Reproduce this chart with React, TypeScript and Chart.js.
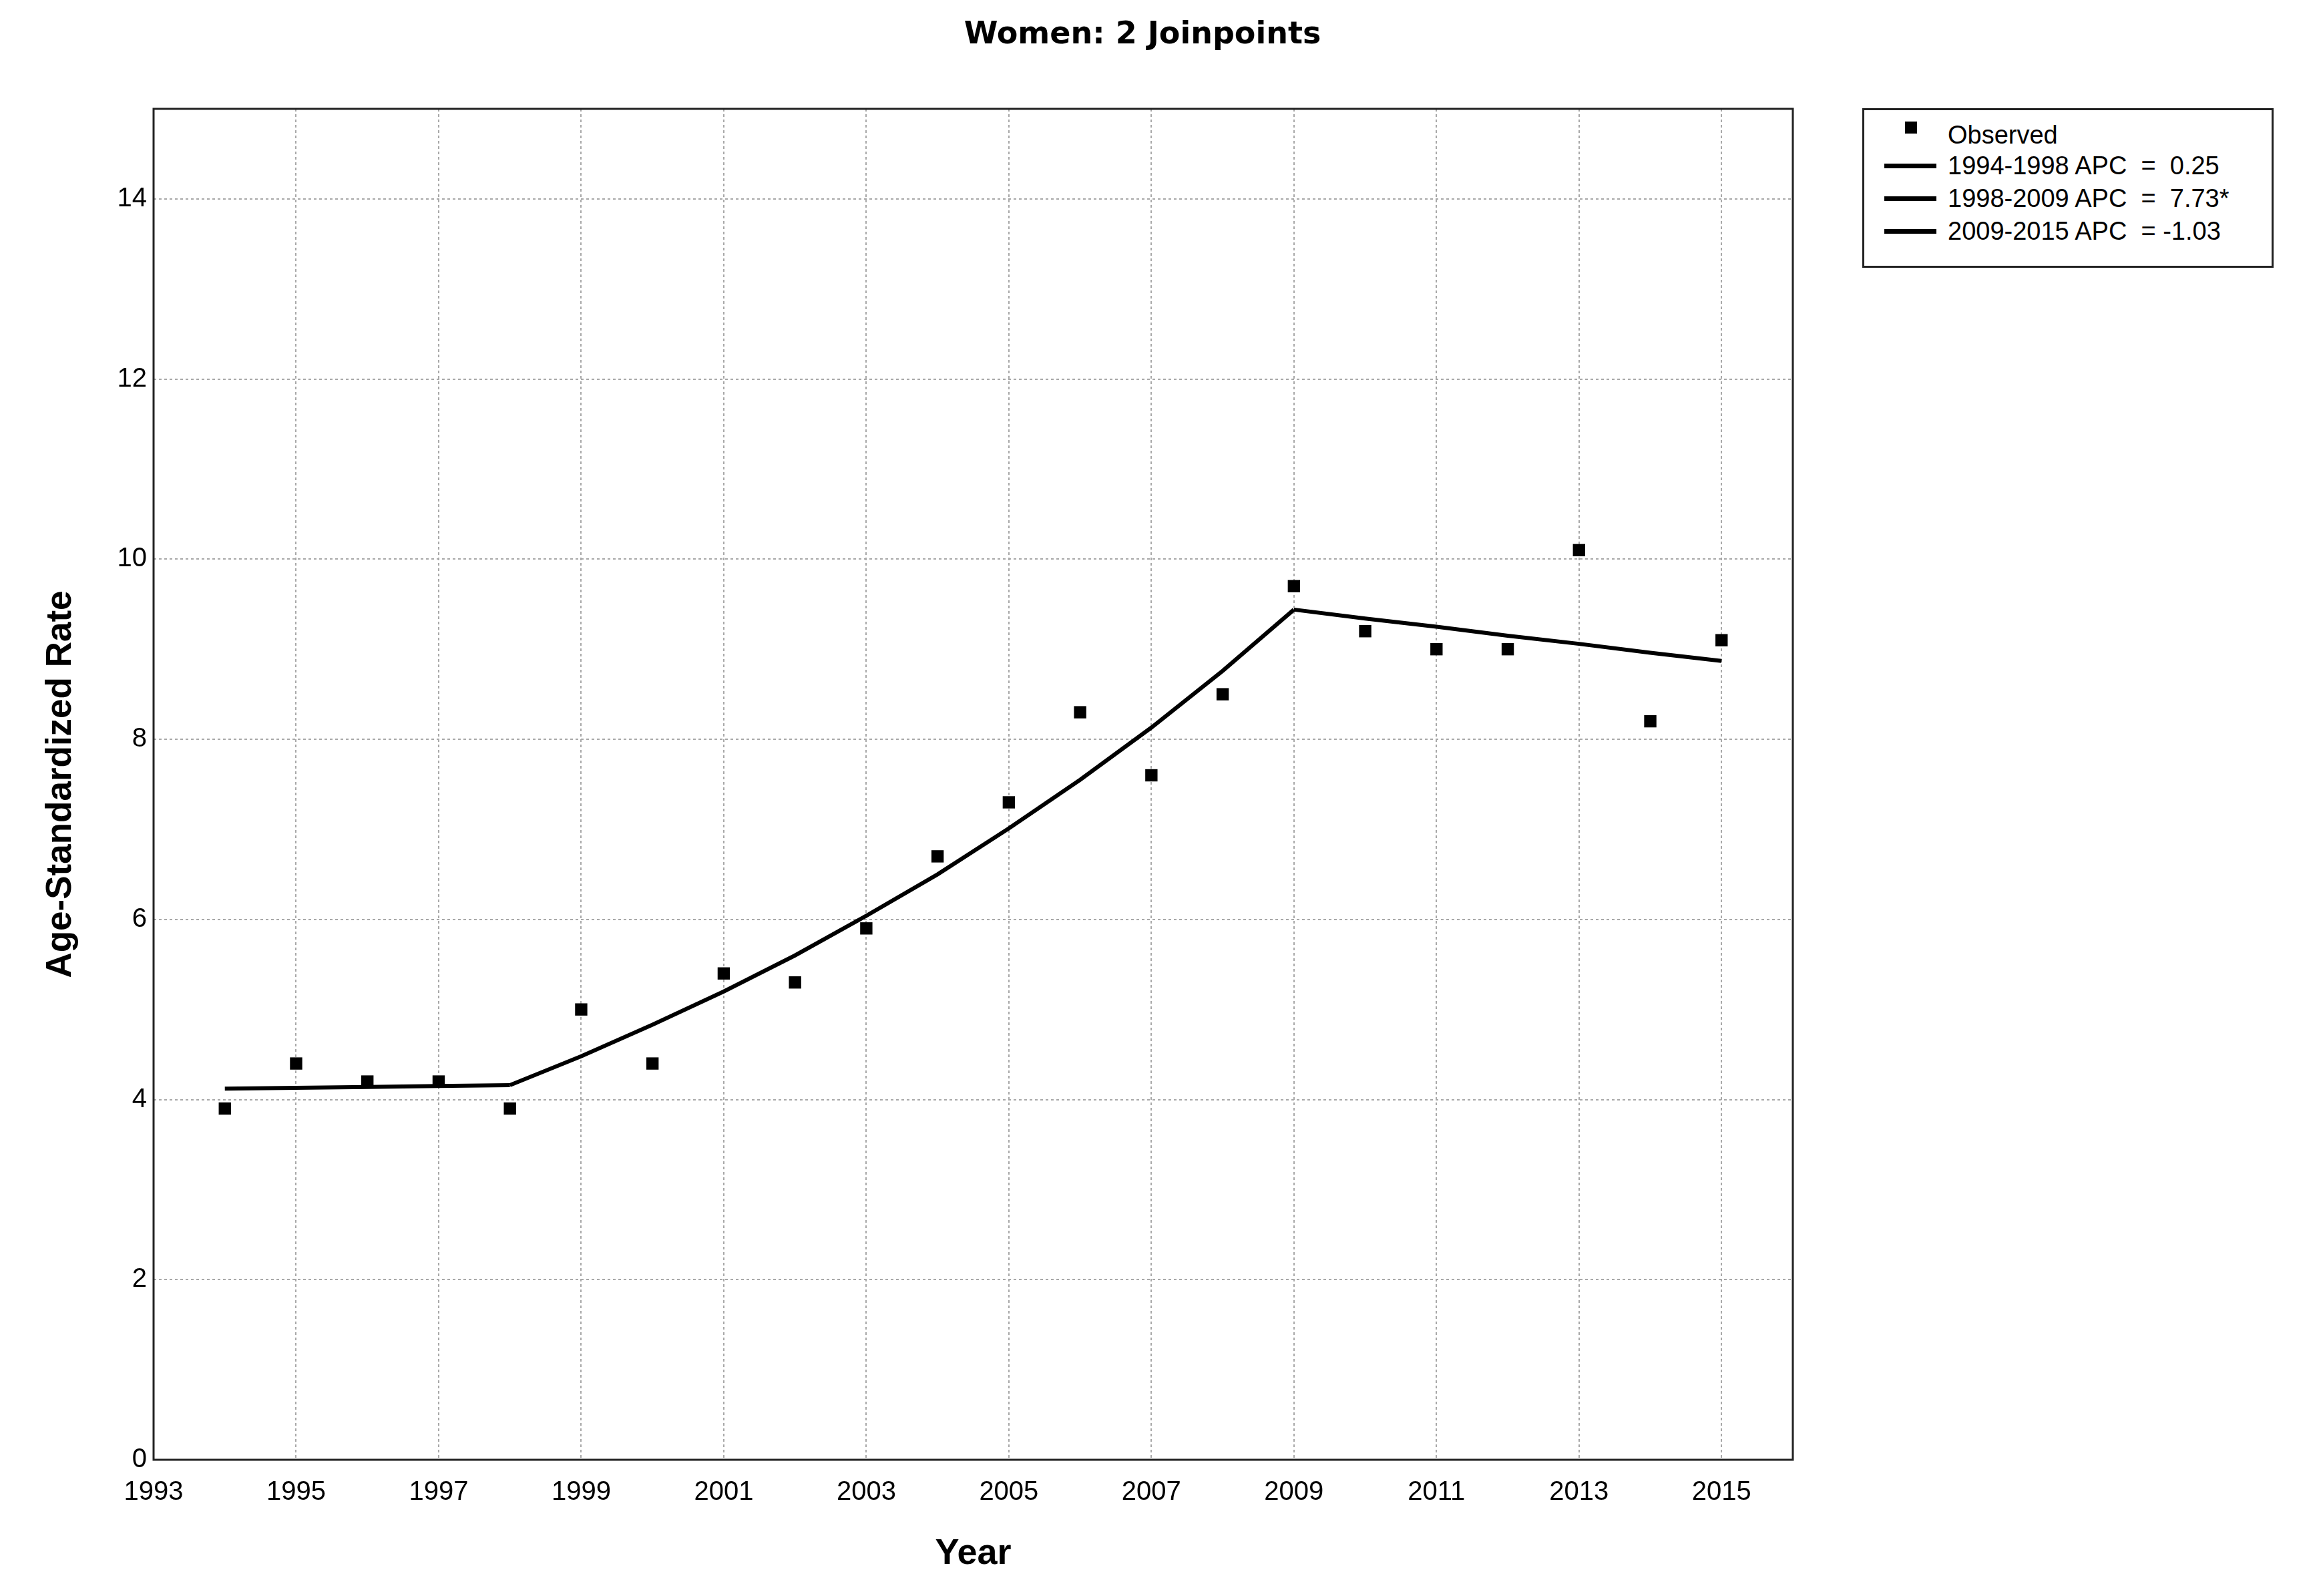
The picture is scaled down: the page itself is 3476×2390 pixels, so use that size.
import React, { useEffect, useRef } from "react";
import { Chart, registerables } from "chart.js";

Chart.register(...registerables);

// ---- data ----
const years = [1994, 1995, 1996, 1997, 1998, 1999, 2000, 2001, 2002, 2003, 2004, 2005, 2006, 2007, 2008, 2009, 2010, 2011, 2012, 2013, 2014, 2015];
const observed = [3.9, 4.4, 4.2, 4.2, 3.9, 5.0, 4.4, 5.4, 5.3, 5.9, 6.7, 7.3, 8.3, 7.6, 8.5, 9.7, 9.2, 9.0, 9.0, 10.1, 8.2, 9.1];
const fitted = [4.12, 4.13, 4.14, 4.15, 4.16, 4.48, 4.83, 5.2, 5.6, 6.04, 6.5, 7.01, 7.55, 8.13, 8.76, 9.44, 9.34, 9.25, 9.15, 9.06, 8.96, 8.87];
const joinpoints = [1994, 1998, 2009, 2015];
const segmentLabels = ["1994-1998 APC  =  0.25", "1998-2009 APC  =  7.73*", "2009-2015 APC  = -1.03"];
const observedLabel = "Observed";
const xTicks = [1993, 1995, 1997, 1999, 2001, 2003, 2005, 2007, 2009, 2011, 2013, 2015];
const yTicks = [0, 2, 4, 6, 8, 10, 12, 14];
const titleText = "Women: 2 Joinpoints";
const xTitle = "Year";
const yTitle = "Age-Standardized Rate";

const W = 3476;
const H = 2390;

const framePlugin = {
  id: "frame",
  afterDatasetsDraw(chart: any) {
    const { ctx, chartArea: a } = chart;
    ctx.save();
    ctx.strokeStyle = "#222";
    ctx.lineWidth = 3;
    ctx.strokeRect(a.left, a.top, a.right - a.left, a.bottom - a.top);
    ctx.restore();
  },
};

export default function App() {
  const ref = useRef<HTMLCanvasElement | null>(null);

  useEffect(() => {
    if (!ref.current) return;
    const segDatasets = segmentLabels.map((label, i) => {
      const a = joinpoints[i];
      const b = joinpoints[i + 1];
      const data = years
        .map((y, k) => ({ x: y, y: fitted[k] }))
        .filter((p) => p.x >= a && p.x <= b);
      return {
        type: "line" as const,
        label,
        data,
        showLine: true,
        borderColor: "#000",
        borderWidth: 6,
        pointRadius: 0,
        fill: false,
        tension: 0,
      };
    });
    const chart = new Chart(ref.current, {
      type: "scatter",
      data: {
        datasets: [
          {
            label: observedLabel,
            data: years.map((y, k) => ({ x: y, y: observed[k] })),
            pointStyle: "rect",
            pointRadius: 13,
            backgroundColor: "#000",
            borderColor: "#000",
            borderWidth: 0,
          } as any,
          ...segDatasets,
        ],
      },
      options: {
        animation: false,
        responsive: false,
        devicePixelRatio: 1,
        layout: { padding: { left: 0, top: 163, right: W - 2685, bottom: 0 } },
        plugins: {
          legend: { display: false },
          tooltip: { enabled: false },
          title: { display: false },
        },
        scales: {
          x: {
            type: "linear",
            min: 1993,
            max: 2016,
            afterBuildTicks: (s: any) => {
              s.ticks = xTicks.map((v) => ({ value: v }));
            },
            afterFit: (s: any) => {
              s.height = H - 2186;
            },
            ticks: {
              autoSkip: false,
              maxRotation: 0,
              padding: 25,
              color: "#000",
              font: { family: "Liberation Sans", size: 40 },
              callback: (v: any) => String(v),
            },
            grid: { color: "#a8a8a8", lineWidth: 2, drawTicks: false },
            border: { display: false, dash: [4, 4] },
            title: {
              display: true,
              text: xTitle,
              color: "#000",
              font: { family: "Liberation Sans", weight: "bold", size: 54 },
              padding: { top: 0, bottom: 30 },
            },
          },
          y: {
            type: "linear",
            min: 0,
            max: 15,
            afterBuildTicks: (s: any) => {
              s.ticks = yTicks.map((v) => ({ value: v }));
            },
            afterFit: (s: any) => {
              s.width = 230;
            },
            ticks: {
              padding: 10,
              color: "#000",
              font: { family: "Liberation Sans", size: 40 },
              callback: (v: any) => String(v),
            },
            grid: { color: "#a8a8a8", lineWidth: 2, drawTicks: false },
            border: { display: false, dash: [4, 4] },
            title: {
              display: true,
              text: yTitle,
              color: "#000",
              font: { family: "Liberation Sans", weight: "bold", size: 53 },
              padding: { top: 60, bottom: 0 },
            },
          },
        },
      } as any,
      plugins: [framePlugin],
    });
    return () => chart.destroy();
  }, []);

  const legendFont = { fontFamily: "Liberation Sans", fontSize: 38, lineHeight: "38px", color: "#000", whiteSpace: "pre" as const };
  const rowCenters = [202, 248, 297, 346];

  return (
    <div style={{ position: "fixed", left: 0, top: 0, width: W, height: H, background: "#fff", overflow: "hidden" }}>
      <canvas ref={ref} width={W} height={H} style={{ position: "absolute", left: 0, top: 0, width: W, height: H }} />
      <div
        style={{
          position: "absolute",
          left: 0,
          width: 3422,
          top: 26,
          textAlign: "center",
          fontFamily: "DejaVu Sans",
          fontWeight: "bold",
          fontSize: 46,
          lineHeight: "46px",
          color: "#000",
        }}
      >
        {titleText}
      </div>
      <div
        style={{
          position: "absolute",
          left: 2789,
          top: 162,
          width: 616,
          height: 239,
          boxSizing: "border-box",
          border: "3px solid #222",
          background: "#fff",
        }}
      >
        <div style={{ position: "absolute", left: 2853 - 2789 - 3, top: 182 - 162 - 3, width: 18, height: 18, background: "#000" }} />
        <div style={{ position: "absolute", left: 2917 - 2789 - 3, top: rowCenters[0] - 162 - 3 - 19, ...legendFont }}>{observedLabel}</div>
        {segmentLabels.map((lab, i) => (
          <React.Fragment key={lab}>
            <div
              style={{
                position: "absolute",
                left: 2822 - 2789 - 3,
                top: rowCenters[i + 1] - 162 - 3 - 3,
                width: 78,
                height: 7,
                background: "#000",
              }}
            />
            <div style={{ position: "absolute", left: 2917 - 2789 - 3, top: rowCenters[i + 1] - 162 - 3 - 19, ...legendFont }}>{lab}</div>
          </React.Fragment>
        ))}
      </div>
    </div>
  );
}
